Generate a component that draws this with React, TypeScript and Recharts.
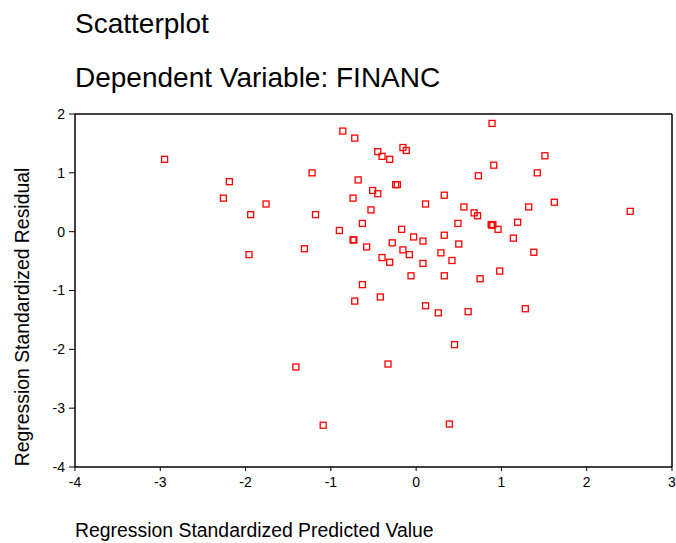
import { ScatterChart, Scatter, XAxis, YAxis, ReferenceLine } from "recharts";

const predicted = [
  -2.95, -2.19, -2.26, -1.76, -1.94, -1.96, -1.22, -1.18, -1.31, -0.86,
  -0.72, -0.68, -0.74, -0.63, -0.9, -0.74, -0.73, -0.58, -0.63, -0.72,
  -1.41, -1.09, 0.89, -0.45, -0.4, -0.31, -0.155, -0.116, -0.51, -0.45,
  -0.24, -0.22, -0.53, -0.17, -0.03, -0.28, 0.08, -0.155, -0.08, -0.4,
  -0.31, 0.08, -0.06, 0.33, 0.75, 0.98, 0.29, 0.42, 0.33, 0.5,
  0.49, 0.33, 0.11, 0.56, 0.68, 0.72, 0.88, 0.89, 0.9, 0.96,
  0.73, 0.91, 1.19, 1.14, 1.32, 1.42, 1.51, 1.62, 1.38, 2.51,
  -0.42, 0.11, 0.26, 0.61, 1.28, 0.45, -0.33, 0.39,
];

const residual = [
  1.23, 0.85, 0.57, 0.47, 0.29, -0.39, 1.0, 0.29, -0.29, 1.71,
  1.59, 0.88, 0.57, 0.14, 0.02, -0.14, -0.14, -0.26, -0.9, -1.18,
  -2.3, -3.29, 1.84, 1.36, 1.28, 1.23, 1.43, 1.38, 0.7, 0.645,
  0.8, 0.8, 0.37, 0.04, -0.09, -0.19, -0.16, -0.31, -0.39, -0.44,
  -0.52, -0.54, -0.75, -0.75, -0.8, -0.67, -0.36, -0.49, -0.06, -0.21,
  0.14, 0.62, 0.47, 0.42, 0.32, 0.27, 0.12, 0.11, 0.12, 0.04,
  0.95, 1.13, 0.16, -0.11, 0.42, 1.0, 1.29, 0.5, -0.35, 0.345,
  -1.11, -1.26, -1.38, -1.36, -1.31, -1.92, -2.25, -3.27,
];

const xTicks = [-4, -3, -2, -1, 0, 1, 2, 3];
const yTicks = [-4, -3, -2, -1, 0, 1, 2];

const points = predicted.map((x, i) => ({ x, y: residual[i] }));

const FONT = "'Liberation Sans', Arial, sans-serif";

// open red square marker
const Square = (props: any) => {
  const { cx, cy } = props;
  if (cx == null || cy == null) return null;
  return (
    <rect x={cx - 3} y={cy - 3} width={6} height={6} fill="none" stroke="#ff0000" strokeWidth={1.3} />
  );
};

export default function App() {
  const tickStyle = { fontSize: 14, fill: "#000", fontFamily: FONT };

  return (
    <div style={{ position: "absolute", left: 0, top: 0, width: 676, height: 543, background: "#fff" }}>
      <ScatterChart
        width={676}
        height={543}
        margin={{ top: 114, right: 4, bottom: 46, left: 0 }}
      >
        <XAxis
          type="number"
          dataKey="x"
          domain={[-4, 3]}
          ticks={xTicks}
          interval={0}
          height={30}
          tickSize={4}
          tickMargin={6}
          tick={tickStyle}
          axisLine={{ stroke: "#000", strokeWidth: 1.5 }}
          tickLine={{ stroke: "#000" }}
          allowDataOverflow
        />
        <YAxis
          type="number"
          dataKey="y"
          domain={[-4, 2]}
          ticks={yTicks}
          interval={0}
          width={75}
          tickSize={6}
          tickMargin={4}
          tick={tickStyle}
          axisLine={{ stroke: "#000", strokeWidth: 1.5 }}
          tickLine={{ stroke: "#000" }}
          allowDataOverflow
        />
        <ReferenceLine y={2} stroke="#000" strokeWidth={1.5} />
        <ReferenceLine x={3} stroke="#000" strokeWidth={1.5} />
        <Scatter data={points} shape={<Square />} isAnimationActive={false} />
      </ScatterChart>

      <svg
        width={676}
        height={543}
        style={{ position: "absolute", left: 0, top: 0, pointerEvents: "none" }}
      >
        <text x={75} y={33} fontSize={28} fontFamily={FONT} fill="#000">
          Scatterplot
        </text>
        <text x={75} y={87} fontSize={28} fontFamily={FONT} fill="#000">
          Dependent Variable: FINANC
        </text>
        <text
          x={0}
          y={0}
          fontSize={19.4}
          fontFamily={FONT}
          fill="#000"
          textAnchor="middle"
          transform="translate(29 317) rotate(-90)"
        >
          Regression Standardized Residual
        </text>
        <text x={75} y={537} fontSize={19.4} fontFamily={FONT} fill="#000">
          Regression Standardized Predicted Value
        </text>
      </svg>
    </div>
  );
}
